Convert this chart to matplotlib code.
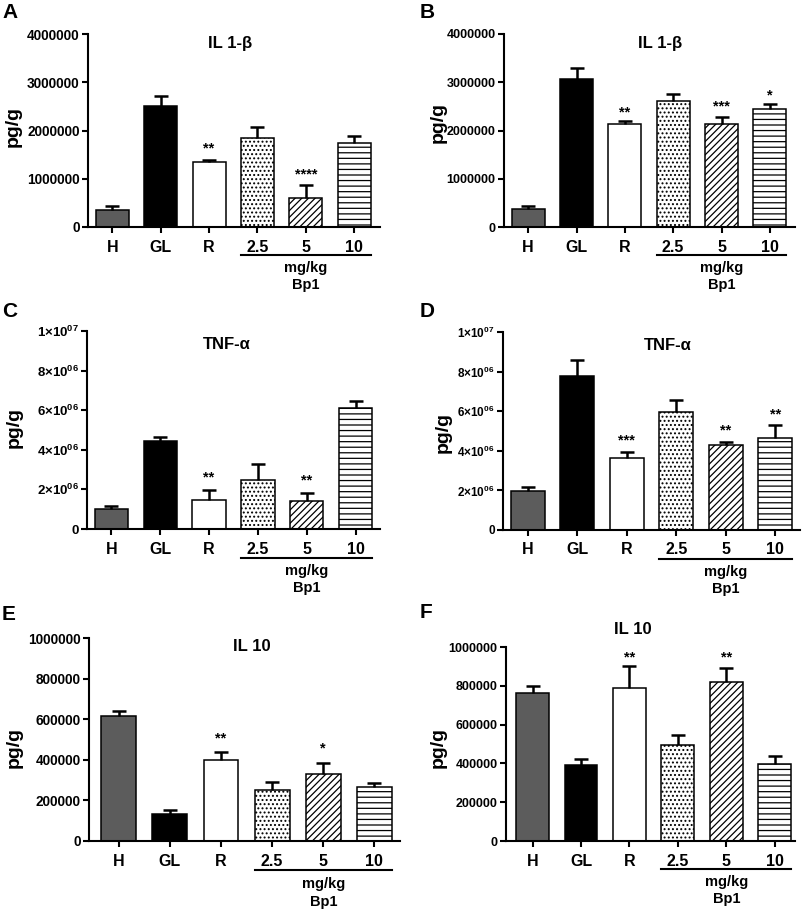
import matplotlib
matplotlib.use('Agg')
import matplotlib.pyplot as plt
import numpy as np

plt.rcParams.update({
    'font.family': ['Liberation Sans', 'DejaVu Sans'],
    'font.weight': 'bold',
    'axes.linewidth': 1.5,
    'hatch.linewidth': 0.9,
    'mathtext.fontset': 'custom',
    'mathtext.bf': 'Liberation Sans:bold',
    'mathtext.rm': 'Liberation Sans:bold',
    'mathtext.default': 'bf',
})

groups = ['H', 'GL', 'R', '2.5', '5', '10']

# A / B : IL 1-beta
il1b_a = [360000, 2510000, 1350000, 1850000, 600000, 1750000]
il1b_a_err = [80000, 210000, 40000, 230000, 270000, 130000]
il1b_a_stars = ['', '', '**', '', '****', '']
il1b_a_star_y = [0, 0, 1720000, 0, 1170000, 0]

il1b_b = [370000, 3070000, 2130000, 2610000, 2140000, 2440000]
il1b_b_err = [70000, 220000, 70000, 140000, 130000, 100000]
il1b_b_stars = ['', '', '**', '', '***', '*']
il1b_b_star_y = [0, 0, 2470000, 0, 2580000, 2820000]

# C / D : TNF-alpha
tnf_c = [1000000, 4450000, 1450000, 2480000, 1430000, 6130000]
tnf_c_err = [170000, 210000, 510000, 810000, 370000, 350000]
tnf_c_stars = ['', '', '**', '', '**', '']
tnf_c_star_y = [0, 0, 2820000, 0, 2650000, 0]

tnf_d = [1970000, 7760000, 3640000, 5940000, 4300000, 4670000]
tnf_d_err = [210000, 810000, 310000, 650000, 150000, 610000]
tnf_d_stars = ['', '', '***', '', '**', '**']
tnf_d_star_y = [0, 0, 4720000, 0, 5260000, 6070000]

# E / F : IL 10
il10_e = [614000, 135000, 399000, 253000, 332000, 266000]
il10_e_err = [28000, 18000, 39000, 36000, 54000, 18000]
il10_e_stars = ['', '', '**', '', '*', '']
il10_e_star_y = [0, 0, 524000, 0, 476000, 0]

il10_f = [763000, 392000, 787000, 497000, 821000, 395000]
il10_f_err = [36000, 32000, 113000, 51000, 71000, 45000]
il10_f_stars = ['', '', '**', '', '**', '']
il10_f_star_y = [0, 0, 970000, 0, 970000, 0]

ticks_il1b = [0, 1000000, 2000000, 3000000, 4000000]
ticks_il1b_labels = ['0', '1000000', '2000000', '3000000', '4000000']
ticks_tnf = [0, 2000000, 4000000, 6000000, 8000000, 10000000]
ticks_tnf_labels = ['0', '2×10$^{06}$', '4×10$^{06}$', '6×10$^{06}$', '8×10$^{06}$', '1×10$^{07}$']
ticks_il10 = [0, 200000, 400000, 600000, 800000, 1000000]
ticks_il10_labels = ['0', '200000', '400000', '600000', '800000', '1000000']

faces = ['#5c5c5c', 'black', 'white', 'white', 'white', 'white']
hatches = [None, None, None, '....', '/////', '---']

W, H = 803, 911
fig = plt.figure(figsize=(W / 100, H / 100), dpi=100)


def rect(left, top, right, bottom):
    return [left / W, 1 - bottom / H, (right - left) / W, (bottom - top) / H]


def panel(box, vals, errs, stars, star_y, ticks, tick_labels, title, title_xy,
          ylab_xy, letter_xy, letter, tick_size, xlim):
    ax = fig.add_axes(rect(*box))
    x = np.arange(len(groups))
    ax.bar(x, vals, width=0.68, color=faces, edgecolor='black', linewidth=1.1,
           hatch=hatches, zorder=2)
    _, caps, _ = ax.errorbar(x, vals, yerr=[np.zeros(len(vals)), errs], fmt='none',
                             ecolor='black', elinewidth=1.8, capsize=5, capthick=1.8,
                             zorder=3)
    caps[0].set_visible(False)
    for xi, s, sy in zip(x, stars, star_y):
        if s:
            ax.annotate(s, (xi, sy), xytext=(0, -6), textcoords='offset points',
                        ha='center', va='baseline', fontsize=10.5, fontweight='bold')
    ax.set_xlim(*xlim)
    ax.set_ylim(0, ticks[-1])
    ax.set_yticks(ticks)
    ax.set_yticklabels(tick_labels, fontsize=tick_size, fontweight='bold')
    ax.set_xticks(x)
    ax.set_xticklabels(groups, fontsize=11.5, fontweight='bold')
    ax.tick_params(axis='both', width=1.5, length=4, direction='out')
    ax.tick_params(axis='y', pad=2)
    ax.tick_params(axis='x', pad=5)
    ax.spines['top'].set_visible(False)
    ax.spines['right'].set_visible(False)
    ax.text(title_xy[0], title_xy[1], title, transform=ax.transAxes, ha='center',
            va='center', fontsize=12, fontweight='bold')
    ax.text(ylab_xy[0], ylab_xy[1], 'pg/g', transform=ax.transAxes, rotation=90,
            ha='center', va='center', fontsize=14, fontweight='bold')
    # dose group bracket
    trans = ax.get_xaxis_transform()
    ax.plot([x[3] - 0.34, x[5] + 0.34], [-0.145, -0.145], color='black', lw=1.5,
            transform=trans, clip_on=False)
    ax.text(x[4], -0.21, 'mg/kg', transform=trans, ha='center', va='center',
            fontsize=10.5, fontweight='bold')
    ax.text(x[4], -0.30, 'Bp1', transform=trans, ha='center', va='center',
            fontsize=10.5, fontweight='bold')
    fig.text(letter_xy[0] / W, 1 - letter_xy[1] / H, letter, fontsize=15,
             fontweight='bold', ha='left', va='center')
    return ax


panel((88, 34, 380, 227), il1b_a, il1b_a_err, il1b_a_stars, il1b_a_star_y,
      ticks_il1b, ticks_il1b_labels, 'IL 1-β', (0.486, 0.953), (-0.255, 0.52),
      (2, 13), 'A', 9.8, (-0.5, 5.53))
panel((504, 34, 795, 227), il1b_b, il1b_b_err, il1b_b_stars, il1b_b_star_y,
      ticks_il1b, ticks_il1b_labels, 'IL 1-β', (0.536, 0.953), (-0.227, 0.54),
      (420, 13), 'B', 9, (-0.5, 5.52))
panel((87, 331, 380, 529), tnf_c, tnf_c_err, tnf_c_stars, tnf_c_star_y,
      ticks_tnf, ticks_tnf_labels, 'TNF-α', (0.478, 0.93), (-0.25, 0.515),
      (2, 312), 'C', 9.5, (-0.5, 5.5))
panel((503, 332, 800, 530), tnf_d, tnf_d_err, tnf_d_stars, tnf_d_star_y,
      ticks_tnf, ticks_tnf_labels, 'TNF-α', (0.556, 0.934), (-0.2, 0.49),
      (420, 312), 'D', 8.5, (-0.5, 5.5))
panel((89, 638, 400, 841), il10_e, il10_e_err, il10_e_stars, il10_e_star_y,
      ticks_il10, ticks_il10_labels, 'IL 10', (0.524, 0.956), (-0.24, 0.46),
      (2, 614), 'E', 9.8, (-0.58, 5.5))
panel((506, 647, 795, 841), il10_f, il10_f_err, il10_f_stars, il10_f_star_y,
      ticks_il10, ticks_il10_labels, 'IL 10', (0.44, 1.09), (-0.235, 0.48),
      (420, 613), 'F', 9, (-0.55, 5.42))

fig.savefig('out.png', dpi=100)
